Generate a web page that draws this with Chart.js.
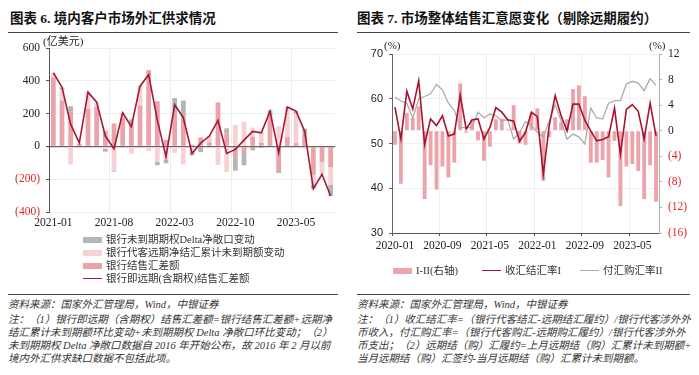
<!DOCTYPE html>
<html>
<head>
<meta charset="utf-8">
<script src="https://cdn.jsdelivr.net/npm/chart.js@4.4.0/dist/chart.umd.min.js"></script>
<style>
    body {
        margin: 0;
        width: 699px;
        height: 375px;
        background: #fff;
        position: relative;
        overflow: hidden;
        font-family: 'Liberation Serif', 'Noto Sans CJK SC', serif;
        color: #222;
    }
    .abs { position: absolute; white-space: nowrap; }
    .title { top: 7px; font-size: 13.5px; font-weight: bold; color: #111; }
    .rule { height: 0; border-top: 1.5px solid #444; }
    .unit { font-size: 11px; color: #222; line-height: 12px; }
    .legend { font-size: 10.5px; color: #333; line-height: 13px; }
    .legend .sw { display: inline-block; width: 19px; height: 6px; vertical-align: middle; margin-right: 4px; position: relative; top: -1px; }
    .legend .ln { display: inline-block; width: 19px; height: 0; vertical-align: middle; margin-right: 4px; position: relative; top: -1px; }
    .note { font-size: 10.5px; font-style: italic; color: #333; line-height: 13px; }
    canvas { display: block; }
</style>
</head>
<body>

<div class="abs title" style="left:10px;">图表 6. 境内客户市场外汇供求情况</div>
<div class="abs title" style="left:357px;">图表 7. 市场整体结售汇意愿变化（剔除远期履约）</div>
<div class="abs rule" style="left:8px; top:32px; width:330px;"></div>
<div class="abs rule" style="left:357px; top:32px; width:333px;"></div>

<div class="abs" style="left:0; top:30px; width:345px; height:205px;">
    <canvas id="chart-flow" width="345" height="205"></canvas>
</div>
<div class="abs unit" style="left:43px; top:35px;">(亿美元)</div>

<div class="abs" style="left:350px; top:35px; width:349px; height:220px;">
    <canvas id="chart-ratio" width="349" height="220"></canvas>
</div>
<div class="abs unit" style="left:384px; top:39px;">(%)</div>
<div class="abs unit" style="left:649px; top:39px;">(%)</div>

<div class="abs legend" id="legend-flow" style="left:83px; top:233px;"></div>
<div class="abs legend" id="legend-ratio" style="left:0; top:264px;"></div>

<div class="abs rule" style="left:8px; top:294px; width:330px;"></div>
<div class="abs rule" style="left:357px; top:294px; width:333px;"></div>

<div class="abs note" style="left:8px; top:298px;">
    <div>资料来源：国家外汇管理局，Wind，中银证券</div>
    <div style="margin-top:2px;">注：（1）银行即远期（含期权）结售汇差额=银行结售汇差额+远期净</div>
    <div>结汇累计未到期额环比变动+未到期期权 Delta 净敞口环比变动；（2）</div>
    <div>未到期期权 Delta 净敞口数据自 2016 年开始公布，故 2016 年 2 月以前</div>
    <div>境内外汇供求缺口数据不包括此项。</div>
</div>
<div class="abs note" style="left:357px; top:298px;">
    <div>资料来源：国家外汇管理局，Wind，中银证券</div>
    <div style="margin-top:2px;">注：（1）收汇结汇率=（银行代客结汇-远期结汇履约）/银行代客涉外外</div>
    <div>币收入，付汇购汇率=（银行代客购汇-远期购汇履约）/银行代客涉外外</div>
    <div>币支出；（2）远期结（购）汇履约=上月远期结（购）汇累计未到期额+</div>
    <div>当月远期结（购）汇签约-当月远期结（购）汇累计未到期额。</div>
</div>

<script>
// ---- 图表6 data (亿美元), 2021-01 .. 2023-09
const flowMonths = [
    '2021-01', '2021-02', '2021-03', '2021-04', '2021-05', '2021-06', '2021-07', '2021-08', '2021-09', '2021-10', '2021-11', '2021-12',
    '2022-01', '2022-02', '2022-03', '2022-04', '2022-05', '2022-06', '2022-07', '2022-08', '2022-09', '2022-10', '2022-11', '2022-12',
    '2023-01', '2023-02', '2023-03', '2023-04', '2023-05', '2023-06', '2023-07', '2023-08', '2023-09',
]
const flowTicks = ['2021-01', '2021-08', '2022-03', '2022-10', '2023-05']
const bankNet = [420, 280, 215, 15, 230, 240, 95, 140, 175, 150, 250, 465, 275, 40, 200, 180, 10, 55, 25, 268, 80, -70, -40, 60, 22, 180, -150, 57, 20, 70, -175, -97, -126]
const forwardChg = [20, 70, -110, 5, 95, 30, -15, -150, 30, -45, 110, -28, -95, -80, -40, -110, -30, 0, 40, -105, -155, 130, 150, 55, 70, -5, 123, 180, 180, -15, -60, -73, -106]
const deltaChg = [5, 10, 30, 0, 5, 0, -17, -4, 0, 15, 7, 0, -20, -23, 95, 100, -25, -35, 0, -5, 30, -78, -75, -24, -10, 40, -12, 3, 15, 38, -23, 0, -70]
const totalNet = [449, 361, 134, 22, 331, 270, 63, -14, 205, 120, 367, 437, 160, -63, 254, 175, -43, 20, 63, 158, -43, -18, 38, 91, 83, 215, -39, 240, 215, 93, -258, -170, -302]

// ---- 图表7 data (%), 2020-01 .. 2023-09
const ratioMonths = [
    '2020-01', '2020-02', '2020-03', '2020-04', '2020-05', '2020-06', '2020-07', '2020-08', '2020-09', '2020-10', '2020-11', '2020-12',
    '2021-01', '2021-02', '2021-03', '2021-04', '2021-05', '2021-06', '2021-07', '2021-08', '2021-09', '2021-10', '2021-11', '2021-12',
    '2022-01', '2022-02', '2022-03', '2022-04', '2022-05', '2022-06', '2022-07', '2022-08', '2022-09', '2022-10', '2022-11', '2022-12',
    '2023-01', '2023-02', '2023-03', '2023-04', '2023-05', '2023-06', '2023-07', '2023-08', '2023-09',
]
const ratioTicks = ['2020-01', '2020-09', '2021-05', '2022-01', '2022-09', '2023-05']
const settleRate = [58.1, 51.0, 61.7, 57.7, 64.0, 49.8, 55.5, 54.0, 56.2, 51.7, 52.1, 60.8, 53.2, 55.3, 55.5, 51.0, 53.6, 58.0, 57.0, 55.3, 55.0, 50.5, 52.5, 57.0, 56.0, 43.1, 54.0, 60.7, 56.2, 52.8, 58.8, 58.8, 55.2, 52.8, 50.6, 50.9, 51.5, 57.9, 47.6, 57.6, 58.7, 57.2, 51.0, 59.0, 51.7]
const purchaseRate = [60.4, 59.5, 59.0, 55.7, 60.0, 60.5, 61.1, 63.2, 62.0, 59.0, 57.4, 53.6, 53.5, 53.6, 57.0, 55.7, 56.6, 56.2, 55.1, 55.3, 51.0, 52.5, 54.9, 54.0, 52.5, 51.5, 55.0, 58.7, 55.1, 51.0, 52.1, 51.5, 49.9, 57.9, 55.7, 55.5, 59.0, 59.6, 59.6, 63.3, 63.9, 63.5, 61.8, 64.5, 63.0]
const rateGap = [-2.2, -8.3, 2.8, 2.0, 3.8, -10.7, -5.4, -9.2, -5.6, -7.3, -5.0, 7.4, -0.3, 1.7, -1.5, -4.7, -2.5, 1.8, 1.9, 0.2, 4.0, -2.0, -2.2, 2.8, 3.5, -7.8, -1.0, 2.1, 1.3, 1.8, 6.5, 7.1, 5.4, -5.0, -5.0, -4.6, -7.3, -1.6, -11.8, -5.6, -5.2, -6.3, -10.7, -5.4, -11.1]

const RED_TICK = '#e0262b'
const paren = (v) => (v < 0 ? '(' + -v + ')' : '' + v)
const serif = { family: "'Liberation Serif', serif", size: 11.5 }
const sans = { family: "'Liberation Sans', sans-serif", size: 11 }

Chart.defaults.animation = false
Chart.defaults.plugins.legend.display = false
Chart.defaults.plugins.tooltip.enabled = false

// 图表6
new Chart(document.getElementById('chart-flow'), {
    type: 'bar',
    data: {
        labels: flowMonths,
        datasets: [
            { label: '银行结售汇差额', data: bankNet, backgroundColor: '#e9a3a9', stack: 'flow', order: 2, barPercentage: 0.55, categoryPercentage: 1 },
            { label: '银行代客远期净结汇累计未到期额变动', data: forwardChg, backgroundColor: '#f6d2d4', stack: 'flow', order: 2, barPercentage: 0.55, categoryPercentage: 1 },
            { label: '银行未到期期权Delta净敞口变动', data: deltaChg, backgroundColor: '#b4b6b6', stack: 'flow', order: 2, barPercentage: 0.55, categoryPercentage: 1 },
            { type: 'line', label: '银行即远期(含期权)结售汇差额', data: totalNet, borderColor: '#a51a37', borderWidth: 1.6, pointRadius: 0, tension: 0, order: 1 },
        ],
    },
    options: {
        responsive: false,
        layout: { padding: { left: 9, right: 10, top: 18, bottom: 0 } },
        scales: {
            x: {
                afterFit: (s) => { s.height = 23 },
                border: { display: false },
                grid: {
                    offset: true,
                    drawTicks: false,
                    color: (ctx) => (ctx.index > 0 && ctx.index % 7 === 0 ? '#ececec' : 'rgba(0,0,0,0)'),
                },
                ticks: {
                    autoSkip: false,
                    maxRotation: 0,
                    padding: 4,
                    color: '#222',
                    font: serif,
                    callback: function (v) {
                        const l = this.getLabelForValue(v)
                        return flowTicks.includes(l) ? l : ''
                    },
                },
            },
            y: {
                min: -400,
                max: 600,
                afterFit: (s) => { s.width = 40 },
                border: { color: '#555', width: 1 },
                grid: {
                    color: (ctx) => (ctx.tick.value === 0 ? '#666' : '#eeeeee'),
                    lineWidth: (ctx) => (ctx.tick.value === 0 ? 1.2 : 1),
                    tickColor: '#555',
                    tickLength: 3,
                },
                ticks: {
                    stepSize: 200,
                    autoSkip: false,
                    padding: 6,
                    font: serif,
                    color: (ctx) => (ctx.tick.value < 0 ? RED_TICK : '#222'),
                    callback: paren,
                },
            },
        },
    },
})

// 图表7
new Chart(document.getElementById('chart-ratio'), {
    type: 'bar',
    data: {
        labels: ratioMonths,
        datasets: [
            { type: 'line', label: '收汇结汇率I', data: settleRate, yAxisID: 'y', borderColor: '#a8122f', borderWidth: 1.6, pointRadius: 0, tension: 0, order: 1 },
            { type: 'line', label: '付汇购汇率II', data: purchaseRate, yAxisID: 'y', borderColor: '#ababab', borderWidth: 1.3, pointRadius: 0, tension: 0, order: 2 },
            { label: 'I-II(右轴)', data: rateGap, yAxisID: 'y1', backgroundColor: '#eca4ab', order: 3, barPercentage: 0.65, categoryPercentage: 1 },
        ],
    },
    options: {
        responsive: false,
        layout: { padding: { left: 8, right: 0, top: 19, bottom: 0 } },
        scales: {
            x: {
                afterFit: (s) => { s.height = 22 },
                border: { color: '#555' },
                grid: {
                    offset: true,
                    tickLength: 3,
                    color: (ctx) => (ctx.index > 0 && ctx.index % 8 === 0 ? '#efefef' : 'rgba(0,0,0,0)'),
                    tickColor: (ctx) => (ctx.index % 8 === 0 ? '#555' : 'rgba(0,0,0,0)'),
                },
                ticks: {
                    autoSkip: false,
                    maxRotation: 0,
                    padding: 3,
                    color: '#222',
                    font: serif,
                    callback: function (v) {
                        const l = this.getLabelForValue(v)
                        return ratioTicks.includes(l) ? l : ''
                    },
                },
            },
            y: {
                position: 'left',
                min: 30,
                max: 70,
                afterFit: (s) => { s.width = 34 },
                border: { color: '#666' },
                grid: { color: '#f0f0f0', tickColor: '#666', tickLength: 3 },
                ticks: { stepSize: 10, autoSkip: false, padding: 6, color: '#222', font: sans },
            },
            y1: {
                position: 'right',
                min: -16,
                max: 12,
                afterFit: (s) => { s.width = 40 },
                border: { color: '#b0b0b0' },
                grid: { drawOnChartArea: false, tickColor: '#b0b0b0', tickLength: 3 },
                ticks: {
                    stepSize: 4,
                    autoSkip: false,
                    padding: 6,
                    font: serif,
                    color: (ctx) => (ctx.tick.value < 0 ? RED_TICK : '#222'),
                    callback: paren,
                },
            },
        },
    },
})

// legends
const swatch = (d) => (d.line
    ? '<span class="ln" style="border-top:' + d.width + 'px solid ' + d.color + '"></span>'
    : '<span class="sw" style="background:' + d.color + '"></span>')

const flowLegend = [
    { text: '银行未到期期权Delta净敞口变动', color: '#b4b6b6', line: false },
    { text: '银行代客远期净结汇累计未到期额变动', color: '#f6d2d4', line: false },
    { text: '银行结售汇差额', color: '#e9a3a9', line: false },
    { text: '银行即远期(含期权)结售汇差额', color: '#a51a37', line: true, width: 1.6 },
]
document.getElementById('legend-flow').innerHTML = flowLegend
    .map((d) => '<div>' + swatch(d) + d.text + '</div>')
    .join('')

const ratioLegend = [
    { text: 'I-II(右轴)', color: '#eca4ab', line: false, x: 393 },
    { text: '收汇结汇率I', color: '#a8122f', line: true, width: 1.6, x: 482 },
    { text: '付汇购汇率II', color: '#ababab', line: true, width: 1.3, x: 580 },
]
document.getElementById('legend-ratio').innerHTML = ratioLegend
    .map((d) => '<span class="abs" style="left:' + d.x + 'px; top:0;">' + swatch(d) + d.text + '</span>')
    .join('')
</script>
</body>
</html>
